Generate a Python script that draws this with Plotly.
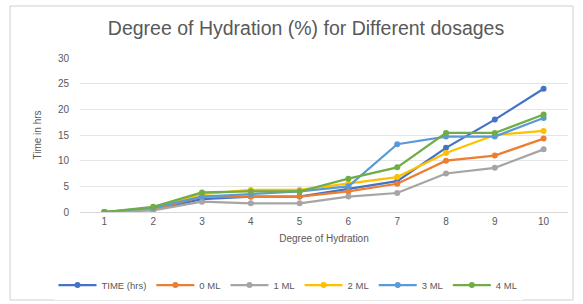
import plotly.graph_objects as go

categories = ["1", "2", "3", "4", "5", "6", "7", "8", "9", "10"]
series_names = ["TIME (hrs)", "0 ML", "1 ML", "2 ML", "3 ML", "4 ML"]
time_hrs = [0, 0.5, 2.5, 3, 3, 4.5, 6, 12.5, 18, 24]
ml0 = [0, 0.5, 3, 3, 3, 4, 5.5, 10, 11, 14.3]
ml1 = [0, 0.3, 2, 1.7, 1.7, 3, 3.7, 7.5, 8.6, 12.2]
ml2 = [0, 0.8, 3.5, 4.3, 4.3, 5.5, 6.8, 11.5, 15, 15.8]
ml3 = [0, 0.8, 3, 3.5, 4, 5, 13.2, 14.7, 14.7, 18.3]
ml4 = [0, 1, 3.8, 4, 4, 6.5, 8.7, 15.4, 15.4, 19]
y_ticks = [0, 5, 10, 15, 20, 25, 30]

colors = ["#4472C4", "#ED7D31", "#A5A5A5", "#FFC000", "#5B9BD5", "#70AD47"]
all_series = [time_hrs, ml0, ml1, ml2, ml3, ml4]

fig = go.Figure()
for name, vals, c in zip(series_names, all_series, colors):
    fig.add_trace(go.Scatter(
        x=categories, y=vals, name=name, mode="lines+markers",
        line=dict(color=c, width=2.25),
        marker=dict(symbol="circle", size=6, color=c),
    ))

font_family = "Liberation Sans, Arial, sans-serif"
fig.update_layout(
    width=583, height=304,
    paper_bgcolor="white", plot_bgcolor="white",
    margin=dict(l=80, r=15, t=58, b=92, autoexpand=False),
    font=dict(family=font_family, color="#595959", size=10),
    title=dict(text="Degree of Hydration (%) for Different dosages",
               x=306 / 583, xref="container", xanchor="center",
               y=1 - 21 / 304, yref="container", yanchor="top",
               font=dict(size=19.5, color="#595959")),
    showlegend=True,
    legend=dict(orientation="h", xref="container", x=288 / 583, xanchor="center",
                yref="container", y=1 - 285 / 304, yanchor="middle",
                font=dict(size=9.5, color="#595959"),
                itemwidth=38, traceorder="normal"),
    shapes=[dict(type="rect", xref="paper", yref="paper",
                 x0=-70 / 488, x1=1 + 5 / 488, y0=-88 / 154, y1=1 + 52 / 154,
                 line=dict(color="#D0D0D0", width=1), fillcolor="rgba(0,0,0,0)",
                 layer="above")],
)
fig.update_xaxes(type="category", range=[-0.5, 9.5], showgrid=False,
                 showline=True, linecolor="#D9D9D9", linewidth=1,
                 ticks="", tickfont=dict(size=10, color="#595959"),
                 title=dict(text="Degree of Hydration", font=dict(size=10, color="#595959"),
                            standoff=8))
fig.update_yaxes(range=[0, 30], tickvals=y_ticks, showgrid=True, gridcolor="#E5E5E5",
                 gridwidth=1, zeroline=False, showline=False, ticks="",
                 ticklabelstandoff=10,
                 tickfont=dict(size=10, color="#595959"),
                 title=dict(text="Time in hrs", font=dict(size=10, color="#595959"),
                            standoff=14))

fig.write_html("out.html", config={"displayModeBar": False},
               post_script="document.body.style.margin='0';")
